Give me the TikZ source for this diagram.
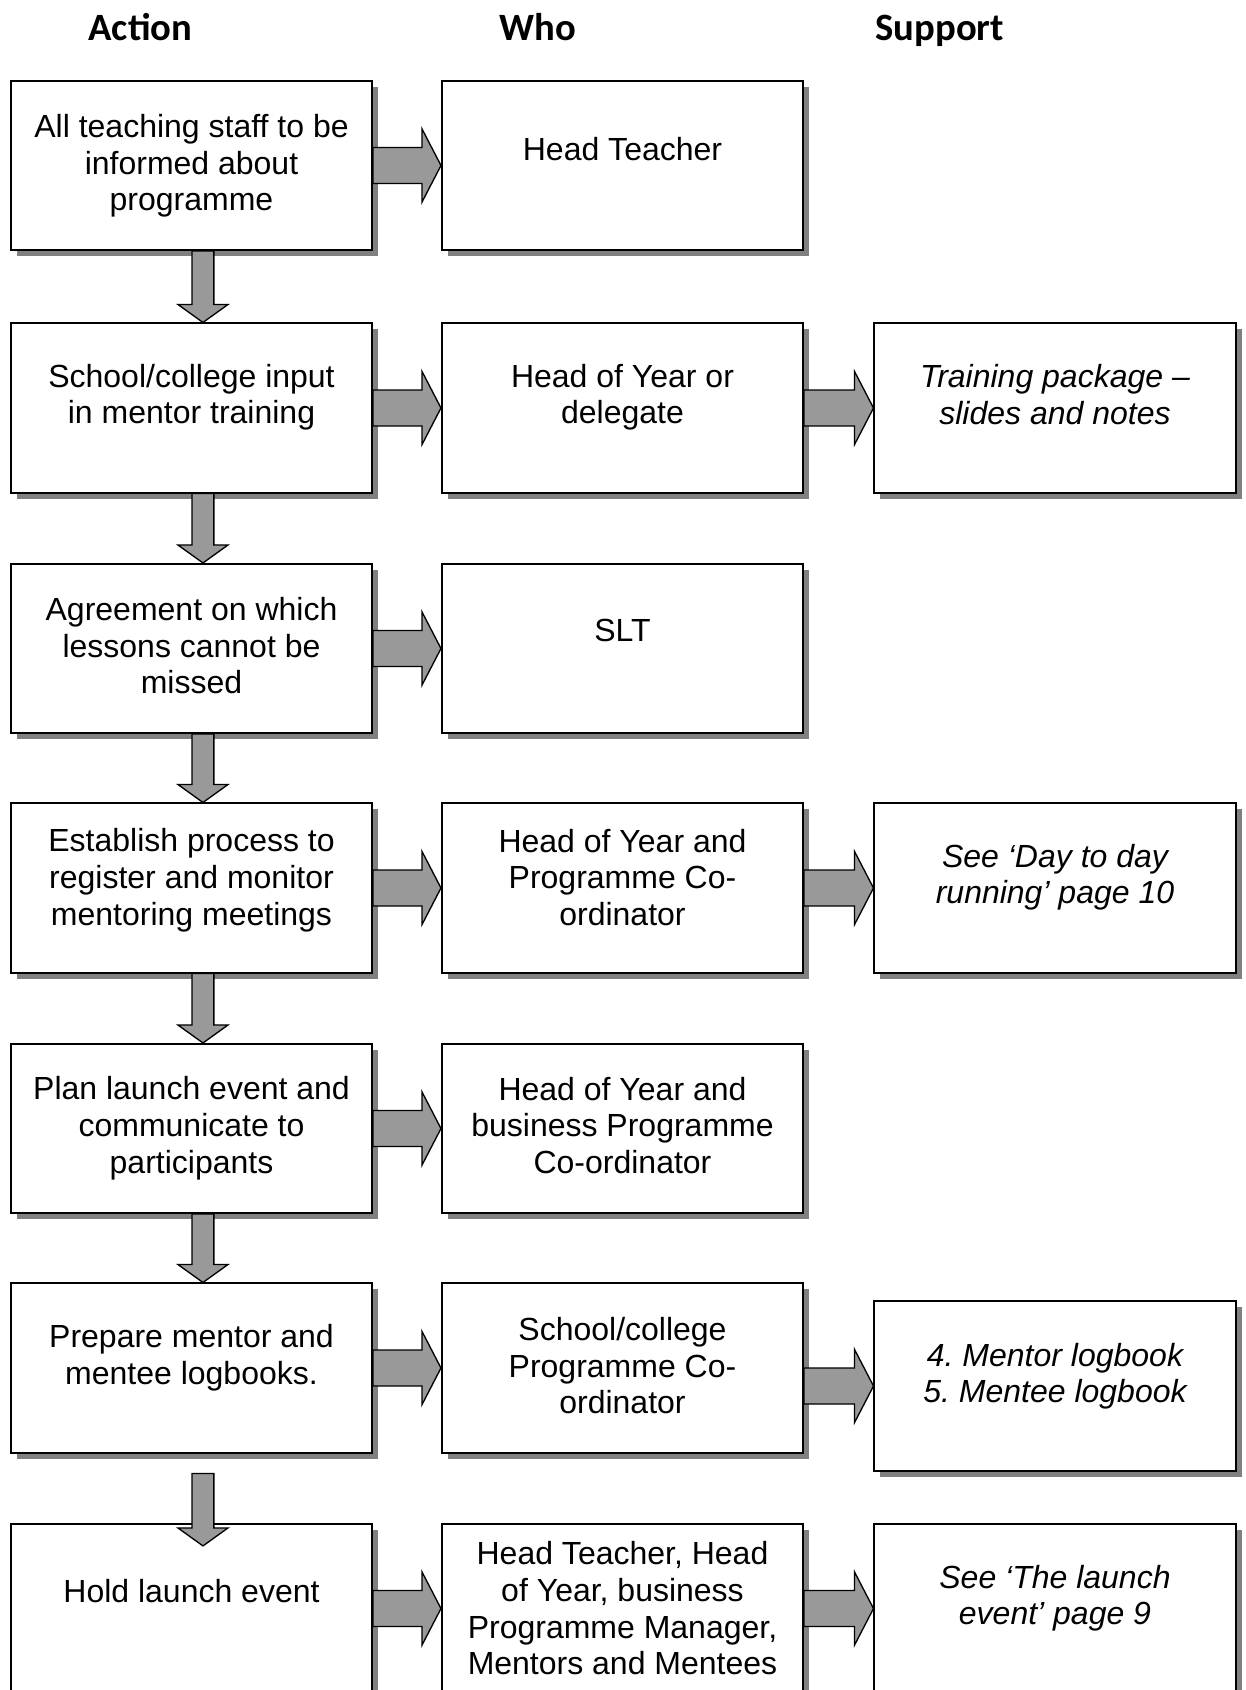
\documentclass[tikz,border=0pt]{standalone}
\usepackage{fontspec}
\setmainfont{Liberation Sans}
\newfontfamily\headfont{Carlito}
\usetikzlibrary{calc,shadows}
\frenchspacing

\definecolor{arrowgray}{HTML}{999999}
\definecolor{shadegray}{HTML}{808080}

\tikzset{
  flowbox/.style={draw, line width=0.75pt, fill=white,
    minimum width=135.4pt, minimum height=63.4pt,
    drop shadow={shadow xshift=2.25pt, shadow yshift=-2.25pt, fill=shadegray, opacity=1}},
  boxtext/.style={align=center, font=\fontsize{12}{13.75}\selectfont},
  supporttext/.style={align=center, font=\fontsize{12}{13.75}\selectfont\itshape},
  headtext/.style={anchor=base west, font=\headfont\bfseries\fontsize{14.5}{17}\selectfont},
  blockarrow/.style={fill=arrowgray, draw=black, line width=0.5pt, line join=miter}
}

% fat arrow, left to right, at the height of the second point
\newcommand{\rightblock}[2]{%
  \filldraw[blockarrow] let \p1=(#1), \p2=(#2) in
    (\x1,\y2+6.75pt) -- (\x2-7.1pt,\y2+6.75pt) -- (\x2-7.1pt,\y2+13.7pt) -- (\x2,\y2)
    -- (\x2-7.1pt,\y2-13.7pt) -- (\x2-7.1pt,\y2-6.75pt) -- (\x1,\y2-6.75pt) -- cycle;}
% fat arrow, top to bottom
\newcommand{\downblock}[2]{%
  \filldraw[blockarrow] let \p1=(#1), \p2=(#2) in
    (\x1-4.1pt,\y1) -- (\x1+4.1pt,\y1) -- (\x1+4.1pt,\y2+6.75pt) -- (\x1+9.4pt,\y2+6.75pt)
    -- (\x1,\y2) -- (\x1-9.4pt,\y2+6.75pt) -- (\x1-4.1pt,\y2+6.75pt) -- cycle;}

\begin{document}
\begin{tikzpicture}[x=0.375pt, y=-0.375pt]
        \useasboundingbox (0,0) rectangle (1245,1690);
        \clip (0,0) rectangle (1245,1690);

        \node[headtext] (hact) at (79,41) {Action};
        \node[headtext] (hwho) at (490,41) {Who};
        \node[headtext] (hsup) at (866,41) {Support};

        % Action column
        \node[flowbox] (a1) at (191.5,165.5) {};
        \node[flowbox] (a2) at (191.5,408) {};
        \node[flowbox] (a3) at (191.5,648.5) {};
        \node[flowbox] (a4) at (191.5,888) {};
        \node[flowbox] (a5) at (191.5,1128.5) {};
        \node[flowbox] (a6) at (191.5,1368) {};
        \node[flowbox] (a7) at (191.5,1608.5) {};

        % Who column
        \node[flowbox] (w1) at (622.5,165.5) {};
        \node[flowbox] (w2) at (622.5,408) {};
        \node[flowbox] (w3) at (622.5,648.5) {};
        \node[flowbox] (w4) at (622.5,888) {};
        \node[flowbox] (w5) at (622.5,1128.5) {};
        \node[flowbox] (w6) at (622.5,1368) {};
        \node[flowbox] (w7) at (622.5,1608.5) {};

        % Support column
        \node[flowbox] (s2) at (1055,408) {};
        \node[flowbox] (s4) at (1055,888) {};
        \node[flowbox] (s6) at (1055,1386) {};
        \node[flowbox] (s7) at (1055,1608.5) {};

        \node[boxtext] (a1t) at ([yshift=-0.1pt]a1) {All teaching staff to be\\informed about\\programme};
        \node[boxtext] (a2t) at ([yshift=4pt]a2) {School/college input\\in mentor training};
        \node[boxtext] (a3t) at ([yshift=1pt]a3) {Agreement on which\\lessons cannot be\\missed};
        \node[boxtext] (a4t) at ([yshift=2.9pt]a4) {Establish process to\\register and monitor\\mentoring meetings};
        \node[boxtext] (a5t) at ([yshift=0.1pt]a5) {Plan launch event and\\communicate to\\participants};
        \node[boxtext] (a6t) at ([yshift=3.8pt]a6) {Prepare mentor and\\mentee logbooks.};
        \node[boxtext] (a7t) at ([yshift=6.6pt]a7) {Hold launch event};

        \node[boxtext] (w1t) at ([yshift=6.3pt]w1) {Head Teacher};
        \node[boxtext] (w2t) at ([yshift=4pt]w2) {Head of Year or\\delegate};
        \node[boxtext] (w3t) at ([yshift=6.7pt]w3) {SLT};
        \node[boxtext] (w4t) at ([yshift=4pt]w4) {Head of Year and\\Programme Co-\\ordinator};
        \node[boxtext] (w5t) at ([yshift=1.2pt]w5) {Head of Year and\\business Programme\\Co-ordinator};
        \node[boxtext] (w6t) at ([yshift=0.9pt]w6) {School/college\\Programme Co-\\ordinator};
        \node[boxtext] (w7t) at (w7) {Head Teacher, Head\\of Year, business\\Programme Manager,\\Mentors and Mentees};

        \node[supporttext] (s2t) at ([yshift=5.1pt]s2) {Training package –\\slides and notes};
        \node[supporttext] (s4t) at ([yshift=4.1pt]s4) {See ‘Day to day\\running’ page 10};
        \node[supporttext] (s6t) at ([yshift=3.7pt]s6) {4. Mentor logbook\\5. Mentee logbook};
        \node[supporttext] (s7t) at ([yshift=3.9pt]s7) {See ‘The launch\\event’ page 9};

        % arrows across
        \rightblock{a1.east}{w1.west}
        \rightblock{a2.east}{w2.west}
        \rightblock{w2.east}{s2.west}
        \rightblock{a3.east}{w3.west}
        \rightblock{a4.east}{w4.west}
        \rightblock{w4.east}{s4.west}
        \rightblock{a5.east}{w5.west}
        \rightblock{a6.east}{w6.west}
        \rightblock{w6.east}{s6.west}
        \rightblock{a7.east}{w7.west}
        \rightblock{w7.east}{s7.west}

        % arrows down
        \downblock{[xshift=4.3pt]a1.south}{a2.north}
        \downblock{[xshift=4.3pt]a2.south}{a3.north}
        \downblock{[xshift=4.3pt]a3.south}{a4.north}
        \downblock{[xshift=4.3pt]a4.south}{a5.north}
        \downblock{[xshift=4.3pt]a5.south}{a6.north}
        \downblock{[shift={(4.3pt,-7.5pt)}]a6.south}{[yshift=-8.6pt]a7.north}
\end{tikzpicture}
\end{document}
